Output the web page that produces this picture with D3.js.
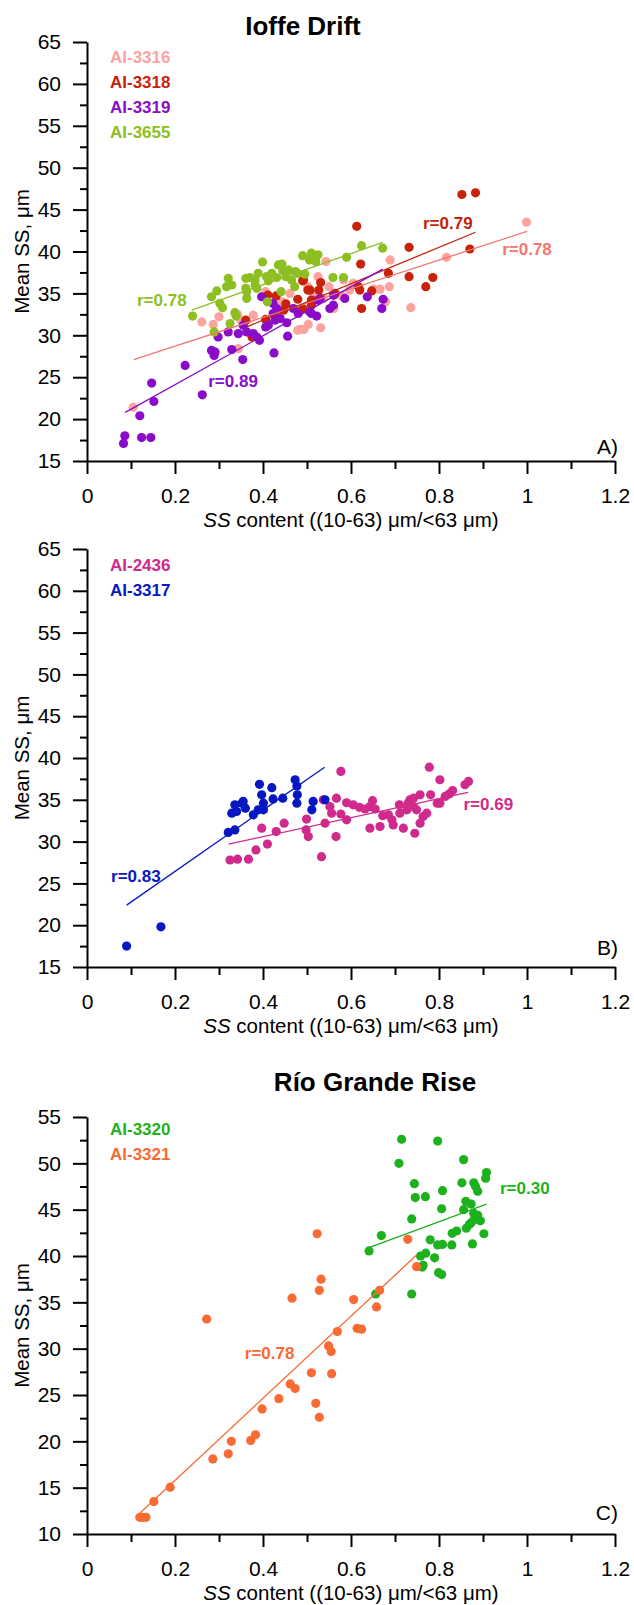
<!DOCTYPE html>
<html>
<head>
<meta charset="utf-8">
<script src="https://cdn.jsdelivr.net/npm/d3@7"></script>
<style>
    body { margin: 0; background: #fff; }
    text { font-family: 'Liberation Sans', Arial, sans-serif; }
</style>
</head>
<body>
<svg id="svg" width="634" height="1605"></svg>
<script>
(function() {

    // ---- data: [SS content, mean SS] ----
    const ai3316 = [[0.105,21.4],[0.261,31.6],[0.287,31.3],[0.3,32.2],[0.342,32.5],[0.344,28.4],[0.35,31.8],[0.378,32.4],
        [0.406,35.2],[0.433,33.0],[0.443,34.0],[0.461,35.0],[0.479,30.6],[0.484,30.7],[0.493,30.7],[0.503,31.3],[0.502,35.8],
        [0.515,34.8],[0.525,37.0],[0.531,30.9],[0.537,34.4],[0.543,38.8],[0.55,35.8],[0.561,33.2],[0.579,34.7],[0.583,36.6],
        [0.597,35.4],[0.605,36.2],[0.652,35.5],[0.666,35.5],[0.679,34.0],[0.687,35.8],[0.689,39.0],[0.736,33.3],[0.817,39.3],[0.999,43.5]]
    const ai3318 = [[0.361,31.8],[0.375,29.8],[0.406,31.9],[0.411,34.8],[0.43,34.7],[0.447,33.0],[0.452,33.75],[0.479,34.3],
        [0.49,36.5],[0.49,33.2],[0.492,36.6],[0.502,35.4],[0.507,35.4],[0.51,33.6],[0.51,34.2],[0.527,35.4],[0.531,36.3],
        [0.561,34.8],[0.564,35.0],[0.613,43.0],[0.617,35.8],[0.62,35.4],[0.622,38.5],[0.624,33.2],[0.647,35.3],[0.685,37.4],
        [0.732,40.5],[0.732,37.0],[0.77,35.8],[0.786,36.9],[0.852,46.8],[0.87,40.3],[0.883,47.0]]
    const ai3319 = [[0.083,17.1],[0.086,18.0],[0.12,20.4],[0.124,17.8],[0.145,17.8],[0.147,24.3],[0.152,22.1],[0.223,26.4],
        [0.262,22.9],[0.283,28.2],[0.289,27.6],[0.291,28.0],[0.298,29.8],[0.321,30.4],[0.329,28.3],[0.344,30.2],[0.354,27.1],
        [0.355,31.2],[0.363,30.4],[0.378,30.2],[0.386,29.8],[0.392,29.4],[0.397,34.6],[0.406,31.0],[0.412,31.2],[0.423,33.8],
        [0.423,32.6],[0.425,27.9],[0.427,31.8],[0.431,33.2],[0.439,32.0],[0.454,31.5],[0.456,29.9],[0.469,33.2],[0.48,32.6],
        [0.506,32.8],[0.51,32.6],[0.522,32.3],[0.525,34.2],[0.53,34.4],[0.552,33.2],[0.56,33.6],[0.56,34.8],[0.586,34.4],
        [0.637,34.6],[0.67,33.2],[0.673,34.3]]
    const ai3655 = [[0.24,32.3],[0.283,34.6],[0.289,30.4],[0.295,35.3],[0.302,33.8],[0.308,33.3],[0.317,35.8],[0.321,36.8],
        [0.325,31.4],[0.329,36.0],[0.336,32.7],[0.339,32.3],[0.361,35.6],[0.361,36.8],[0.363,34.4],[0.363,35.2],[0.37,36.9],
        [0.382,36.6],[0.382,36.0],[0.386,35.6],[0.389,37.4],[0.399,38.75],[0.408,37.0],[0.41,34.0],[0.412,36.5],[0.42,37.4],
        [0.431,36.9],[0.435,38.4],[0.441,35.2],[0.443,38.5],[0.445,37.7],[0.452,37.0],[0.458,37.8],[0.465,36.6],[0.472,35.8],
        [0.474,37.6],[0.478,37.4],[0.49,39.5],[0.495,37.3],[0.506,39.0],[0.51,39.8],[0.515,39.4],[0.52,38.8],[0.525,39.6],
        [0.559,36.9],[0.583,36.9],[0.59,39.3],[0.624,40.7],[0.672,40.4]]
    const ai2436 = [[0.325,27.8],[0.342,27.9],[0.367,27.9],[0.384,29.0],[0.397,31.6],[0.41,29.7],[0.43,31.2],[0.448,32.2],
        [0.498,31.4],[0.499,32.7],[0.503,30.6],[0.533,28.2],[0.537,35.0],[0.541,32.2],[0.552,34.2],[0.556,33.4],[0.566,30.6],
        [0.567,35.2],[0.577,38.4],[0.577,33.3],[0.59,32.6],[0.59,34.65],[0.605,34.4],[0.619,34.1],[0.632,33.9],[0.643,34.2],
        [0.643,31.6],[0.649,34.9],[0.655,33.9],[0.666,31.8],[0.672,33.1],[0.685,33.2],[0.693,32.6],[0.696,32.0],[0.71,34.4],
        [0.711,33.4],[0.719,31.6],[0.727,33.8],[0.73,34.6],[0.734,35.0],[0.742,35.2],[0.742,34.2],[0.745,31.0],[0.749,33.8],
        [0.757,35.6],[0.757,32.2],[0.764,33.0],[0.772,33.4],[0.778,38.9],[0.781,35.6],[0.796,34.6],[0.802,34.6],[0.802,37.4],
        [0.814,35.4],[0.823,35.7],[0.831,36.1],[0.859,36.8],[0.867,37.2]]
    const ai3317 = [[0.09,17.5],[0.168,19.8],[0.321,31.1],[0.329,33.4],[0.336,31.4],[0.336,34.4],[0.34,33.6],[0.352,34.6],
        [0.355,34.8],[0.36,34.0],[0.378,33.2],[0.389,33.8],[0.392,36.85],[0.397,35.6],[0.401,34.6],[0.401,33.8],[0.42,36.45],
        [0.423,35.1],[0.445,35.2],[0.473,37.4],[0.477,36.65],[0.478,35.6],[0.477,34.6],[0.511,33.8],[0.514,34.8],[0.541,35.0]]
    const ai3320 = [[0.641,40.55],[0.656,35.9],[0.669,42.2],[0.709,50.0],[0.715,52.6],[0.738,44.0],[0.738,35.9],[0.744,47.8],
        [0.746,46.3],[0.758,40.0],[0.762,38.8],[0.764,39.0],[0.769,46.4],[0.77,40.3],[0.78,41.75],[0.79,39.8],[0.797,52.4],
        [0.797,41.2],[0.799,38.2],[0.806,38.0],[0.806,45.1],[0.808,47.05],[0.808,41.25],[0.829,41.2],[0.83,42.45],[0.84,42.7],
        [0.852,47.9],[0.856,50.4],[0.856,45.0],[0.861,45.9],[0.862,43.0],[0.869,43.4],[0.873,45.6],[0.873,43.6],[0.876,41.3],
        [0.879,47.9],[0.879,44.6],[0.88,43.9],[0.883,47.5],[0.888,47.0],[0.888,44.4],[0.894,43.8],[0.902,42.4],[0.906,48.4],[0.908,49.0]]
    const ai3321 = [[0.12,11.8],[0.127,11.8],[0.134,11.8],[0.152,13.5],[0.189,15.05],[0.272,33.2],[0.286,18.1],[0.321,18.65],
        [0.328,20.0],[0.372,20.1],[0.383,20.7],[0.398,23.5],[0.436,24.6],[0.462,26.2],[0.466,35.45],[0.473,25.7],[0.51,27.4],
        [0.52,24.1],[0.523,42.4],[0.528,22.6],[0.528,36.3],[0.532,37.5],[0.549,30.3],[0.555,29.7],[0.556,27.3],[0.569,31.85],
        [0.606,35.3],[0.614,32.2],[0.624,32.1],[0.658,34.5],[0.665,36.3],[0.729,41.8],[0.749,38.85]]

    // fitted lines, ends
    const fit3316 = [[0.106,27.1],[1.0,42.4]]
    const fit3318 = [[0.363,31.0],[0.883,42.3]]
    const fit3319 = [[0.087,20.8],[0.672,37.9]]
    const fit3655 = [[0.238,33.0],[0.672,41.1]]
    const fit2436 = [[0.322,29.7],[0.866,35.9]]
    const fit3317 = [[0.09,22.4],[0.54,38.9]]
    const fit3320 = [[0.641,40.9],[0.908,45.6]]
    const fit3321 = [[0.12,12.25],[0.749,40.1]]

    // r labels: text and where it sits (data units)
    const r3316 = ['r=0.78', [1.0,40.3]]
    const r3318 = ['r=0.79', [0.82,43.35]]
    const r3319 = ['r=0.89', [0.332,24.5]]
    const r3655 = ['r=0.78', [0.17,34.25]]
    const r2436 = ['r=0.69', [0.912,34.5]]
    const r3317 = ['r=0.83', [0.111,25.9]]
    const r3320 = ['r=0.30', [0.995,47.3]]
    const r3321 = ['r=0.78', [0.415,29.5]]

    const xTicks = [0, 0.2, 0.4, 0.6, 0.8, 1, 1.2]
    const xMinorTicks = [0.1, 0.3, 0.5, 0.7, 0.9, 1.1]
    const xTickLabels = ['0', '0.2', '0.4', '0.6', '0.8', '1', '1.2']

    const svg = d3.select('#svg')
    const x = d3.scaleLinear().domain([0, 1.2]).range([87, 615])

    const panels = [
        { top: 42, bottom: 461, yDomain: [15, 65], title: 'Ioffe Drift', titleX: 303, titleY: 35,
          tag: 'A)', tagY: 454, legendY: 63,
          series: [
            { name: 'AI-3316', pts: ai3316, fit: fit3316, r: r3316, color: '#fca3a0', line: '#f6766e' },
            { name: 'AI-3318', pts: ai3318, fit: fit3318, r: r3318, color: '#c8220a', line: '#c4220a' },
            { name: 'AI-3319', pts: ai3319, fit: fit3319, r: r3319, color: '#8a0cc8', line: '#8a0cc8' },
            { name: 'AI-3655', pts: ai3655, fit: fit3655, r: r3655, color: '#8dbf22', line: '#8dbf22' }
          ] },
        { top: 549, bottom: 967, yDomain: [15, 65], tag: 'B)', tagY: 955, legendY: 571,
          series: [
            { name: 'AI-2436', pts: ai2436, fit: fit2436, r: r2436, color: '#d02a8c', line: '#d02a8c' },
            { name: 'AI-3317', pts: ai3317, fit: fit3317, r: r3317, color: '#0717c2', line: '#0717c2' }
          ] },
        { top: 1117, bottom: 1534, yDomain: [10, 55], title: 'Río Grande Rise', titleX: 375, titleY: 1091,
          tag: 'C)', tagY: 1520, legendY: 1135,
          series: [
            { name: 'AI-3320', pts: ai3320, fit: fit3320, r: r3320, color: '#1db21d', line: '#1db21d' },
            { name: 'AI-3321', pts: ai3321, fit: fit3321, r: r3321, color: '#fa6a33', line: '#fa6a33' }
          ] }
    ]

    panels.forEach(p => drawPanel(p))

    function styleAxis(g) {
        g.attr('font-family', null).attr('font-size', 21)
        g.selectAll('path, line').attr('stroke', '#000').attr('stroke-width', 2)
        g.selectAll('text').attr('fill', '#000')
    }

    function drawPanel(p) {
        const y = d3.scaleLinear().domain(p.yDomain).range([p.bottom, p.top])
        const yTicks = d3.range(p.yDomain[0], p.yDomain[1] + 0.1, 5)
        const yMinor = d3.range(p.yDomain[0] + 2.5, p.yDomain[1], 5)

        // title
        if (p.title) {
            svg.append('text')
                .attr('x', p.titleX)
                .attr('y', p.titleY)
                .attr('text-anchor', 'middle')
                .style('font-size', '26px')
                .style('font-weight', 'bold')
                .text(p.title)
        }

        // x axis
        svg.append('g')
            .attr('transform', `translate(0,${p.bottom})`)
            .call(d3.axisBottom(x).tickValues(xMinorTicks).tickSize(8).tickFormat('').tickSizeOuter(0))
            .call(g => g.select('.domain').remove())
            .call(styleAxis)
        svg.append('g')
            .attr('transform', `translate(0,${p.bottom})`)
            .call(d3.axisBottom(x).tickValues(xTicks).tickSize(13).tickPadding(14).tickSizeOuter(0)
                .tickFormat((d, i) => xTickLabels[i]))
            .call(styleAxis)

        // y axis
        svg.append('g')
            .attr('transform', 'translate(87,0)')
            .call(d3.axisLeft(y).tickValues(yMinor).tickSize(7).tickFormat('').tickSizeOuter(0))
            .call(g => g.select('.domain').remove())
            .call(styleAxis)
        svg.append('g')
            .attr('transform', 'translate(87,0)')
            .call(d3.axisLeft(y).tickValues(yTicks).tickSize(14).tickPadding(12).tickSizeOuter(0))
            .call(styleAxis)

        // axis titles
        const xt = svg.append('text')
            .attr('x', 351)
            .attr('y', p.bottom + 66)
            .attr('text-anchor', 'middle')
            .style('font-size', '20.5px')
        xt.append('tspan').style('font-style', 'italic').text('SS')
        xt.append('tspan').text(' content ((10-63) μm/<63 μm)')

        svg.append('text')
            .attr('transform', `translate(29,${(p.top + p.bottom) / 2}) rotate(-90)`)
            .attr('text-anchor', 'middle')
            .style('font-size', '20.5px')
            .text('Mean SS, μm')

        // panel tag
        svg.append('text')
            .attr('x', 618)
            .attr('y', p.tagY)
            .attr('text-anchor', 'end')
            .style('font-size', '21px')
            .text(p.tag)

        // points
        p.series.forEach(s => {
            svg.append('g').selectAll('circle')
                .data(s.pts)
                .enter()
                .append('circle')
                    .attr('cx', d => x(d[0]))
                    .attr('cy', d => y(d[1]))
                    .attr('r', 4.6)
                    .attr('fill', s.color)
        })

        // regression lines and r labels
        p.series.forEach(s => {
            svg.append('line')
                .attr('x1', x(s.fit[0][0]))
                .attr('y1', y(s.fit[0][1]))
                .attr('x2', x(s.fit[1][0]))
                .attr('y2', y(s.fit[1][1]))
                .style('stroke', s.line)
                .style('stroke-width', 1.3)

            svg.append('text')
                .attr('x', x(s.r[1][0]))
                .attr('y', y(s.r[1][1]))
                .attr('dy', '0.35em')
                .attr('text-anchor', 'middle')
                .style('font-size', '17px')
                .style('font-weight', 'bold')
                .style('fill', s.line)
                .text(s.r[0])
        })

        // legend
        p.series.forEach((s, i) => {
            svg.append('text')
                .attr('x', 110)
                .attr('y', p.legendY + 25 * i)
                .style('font-size', '17px')
                .style('font-weight', 'bold')
                .style('fill', s.color)
                .text(s.name)
        })
    }

})();
</script>
</body>
</html>
